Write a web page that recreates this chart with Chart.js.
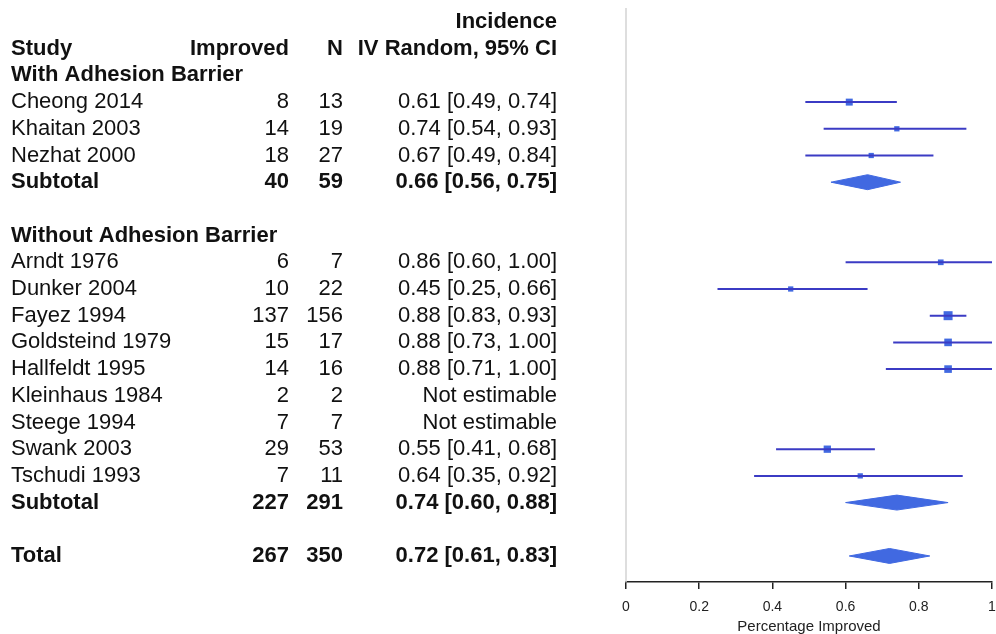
<!DOCTYPE html>
<html>
<head>
<meta charset="utf-8">
<script src="https://cdn.jsdelivr.net/npm/chart.js@4.4.1/dist/chart.umd.min.js"></script>
<style>
  html, body { margin: 0; padding: 0; background: #fff; overflow: hidden; }
  #wrap { position: relative; width: 996px; height: 634px; }
  #forest { display: block; }
</style>
</head>
<body>
<div id="wrap"><canvas id="forest" width="996" height="634"></canvas></div>
<script>
// --- data ---
const groupNames = ['With Adhesion Barrier', 'Without Adhesion Barrier'];
const studyNames = ['Cheong 2014', 'Khaitan 2003', 'Nezhat 2000',
  'Arndt 1976', 'Dunker 2004', 'Fayez 1994', 'Goldsteind 1979', 'Hallfeldt 1995',
  'Kleinhaus 1984', 'Steege 1994', 'Swank 2003', 'Tschudi 1993'];
const studyGroup = [0, 0, 0, 1, 1, 1, 1, 1, 1, 1, 1, 1];
const improved = [8, 14, 18, 6, 10, 137, 15, 14, 2, 7, 29, 7];
const sampleN = [13, 19, 27, 7, 22, 156, 17, 16, 2, 7, 53, 11];
const estimate = [0.61, 0.74, 0.67, 0.86, 0.45, 0.88, 0.88, 0.88, null, null, 0.55, 0.64];
const ciLow = [0.49, 0.54, 0.49, 0.60, 0.25, 0.83, 0.73, 0.71, null, null, 0.41, 0.35];
const ciHigh = [0.74, 0.93, 0.84, 1.00, 0.66, 0.93, 1.00, 1.00, null, null, 0.68, 0.92];
const weight = [10.5, 6, 6, 7, 6, 17.5, 12.5, 12.5, 0, 0, 11.5, 6]; // % weight (approx, from box sizes)

// subtotal per group, then overall total
const pooledLabel = ['Subtotal', 'Subtotal', 'Total'];
const pooledImproved = [40, 227, 267];
const pooledN = [59, 291, 350];
const pooledEst = [0.66, 0.74, 0.72];
const pooledLow = [0.56, 0.60, 0.61];
const pooledHigh = [0.75, 0.88, 0.83];

const xTicks = [0, 0.2, 0.4, 0.6, 0.8, 1];

// --- build table rows (row index = y value) ---
const rows = [];
rows.push({ kind: 'head0' });
rows.push({ kind: 'head1' });
groupNames.forEach(function (g, gi) {
  rows.push({ kind: 'group', label: g });
  studyNames.forEach(function (s, i) {
    if (studyGroup[i] === gi) rows.push({ kind: 'study', i: i });
  });
  rows.push({ kind: 'pooled', i: gi });
  rows.push({ kind: 'blank' });
});
rows.push({ kind: 'pooled', i: 2 });

const fmt = function (v) { return v.toFixed(2); };
const ciText = function (e, l, h) {
  if (e === null) return 'Not estimable';
  return fmt(e) + ' [' + fmt(l) + ', ' + fmt(h) + ']';
};

// datasets
const lineColor = '#3b3bc4';
const boxColor = '#4169e1';
const datasets = [];

// light vertical line at x = 0
datasets.push({
  type: 'line', data: [{ x: 0, y: -0.525 }, { x: 0, y: rows.length - 0.025 }],
  borderColor: '#d4d4d4', borderWidth: 1.5, pointRadius: 0, clip: false
});

const boxes = [];
const boxRadius = [];
rows.forEach(function (r, ri) {
  if (r.kind === 'study' && estimate[r.i] !== null) {
    datasets.push({
      type: 'line',
      data: [{ x: ciLow[r.i], y: ri }, { x: ciHigh[r.i], y: ri }],
      borderColor: lineColor, borderWidth: 2, pointRadius: 0, clip: false
    });
    boxes.push({ x: estimate[r.i], y: ri });
    boxRadius.push(2.15 * Math.sqrt(weight[r.i]) / Math.SQRT2);
  }
  if (r.kind === 'pooled') {
    const p = r.i, h = 0.28;
    datasets.push({
      type: 'line',
      data: [{ x: pooledLow[p], y: ri }, { x: pooledEst[p], y: ri - h },
             { x: pooledHigh[p], y: ri }, { x: pooledEst[p], y: ri + h },
             { x: pooledLow[p], y: ri }],
      borderColor: boxColor, backgroundColor: boxColor, borderWidth: 1,
      pointRadius: 0, fill: 'shape', tension: 0
    });
  }
});

datasets.push({
  type: 'scatter', data: boxes, pointStyle: 'rect',
  pointRadius: boxRadius, pointBackgroundColor: boxColor,
  pointBorderWidth: 0, pointHoverRadius: boxRadius
});

// text table drawn alongside the rows
const tablePlugin = {
  id: 'tableText',
  afterDraw: function (chart) {
    const ctx = chart.ctx;
    const y = chart.scales.y;
    const colStudy = 11, colImp = 289, colN = 343, colCI = 557;
    const reg = '22px "Liberation Sans", Arial, sans-serif';
    const bold = 'bold 22px "Liberation Sans", Arial, sans-serif';
    ctx.save();
    ctx.fillStyle = '#111';
    ctx.textBaseline = 'middle';
    function put(txt, x, yy, align, font) {
      ctx.font = font; ctx.textAlign = align; ctx.fillText(txt, x, yy);
    }
    rows.forEach(function (r, ri) {
      const yy = y.getPixelForValue(ri);
      if (r.kind === 'head0') {
        put('Incidence', colCI, yy, 'right', bold);
      } else if (r.kind === 'head1') {
        put('Study', colStudy, yy, 'left', bold);
        put('Improved', colImp, yy, 'right', bold);
        put('N', colN, yy, 'right', bold);
        put('IV Random, 95% CI', colCI, yy, 'right', bold);
      } else if (r.kind === 'group') {
        put(r.label, colStudy, yy, 'left', bold);
      } else if (r.kind === 'study') {
        const i = r.i;
        put(studyNames[i], colStudy, yy, 'left', reg);
        put(String(improved[i]), colImp, yy, 'right', reg);
        put(String(sampleN[i]), colN, yy, 'right', reg);
        put(ciText(estimate[i], ciLow[i], ciHigh[i]), colCI, yy, 'right', reg);
      } else if (r.kind === 'pooled') {
        const p = r.i;
        put(pooledLabel[p], colStudy, yy, 'left', bold);
        put(String(pooledImproved[p]), colImp, yy, 'right', bold);
        put(String(pooledN[p]), colN, yy, 'right', bold);
        put(ciText(pooledEst[p], pooledLow[p], pooledHigh[p]), colCI, yy, 'right', bold);
      }
    });
    ctx.restore();
  }
};

new Chart(document.getElementById('forest'), {
  type: 'scatter',
  data: { datasets: datasets },
  options: {
    responsive: false,
    animation: false,
    devicePixelRatio: 1,
    layout: { autoPadding: false, padding: { left: 626, right: 4, top: 8, bottom: 0 } },
    plugins: { legend: { display: false }, tooltip: { enabled: false } },
    scales: {
      x: {
        type: 'linear', min: 0, max: 1,
        afterBuildTicks: function (ax) { ax.ticks = xTicks.map(function (v) { return { value: v }; }); },
        afterFit: function (ax) { ax.paddingRight = 0; ax.paddingLeft = 0; },
        grid: { display: true, drawOnChartArea: false, drawTicks: true, tickLength: 7, color: '#222', lineWidth: 1.5 },
        border: { display: true, color: '#222', width: 1.5 },
        ticks: { color: '#222', padding: 11, callback: function (v) { return String(v); },
                 font: { family: '"Liberation Sans", Arial, sans-serif', size: 14, lineHeight: 1 }, maxRotation: 0 },
        title: { display: true, text: 'Percentage Improved', color: '#222', padding: { top: -6, bottom: 0 },
                 font: { family: '"Liberation Sans", Arial, sans-serif', size: 15, lineHeight: 1 } }
      },
      y: {
        type: 'linear', display: false, reverse: true, min: -0.525, max: rows.length - 0.025
      }
    }
  },
  plugins: [tablePlugin]
});
</script>
</body>
</html>
